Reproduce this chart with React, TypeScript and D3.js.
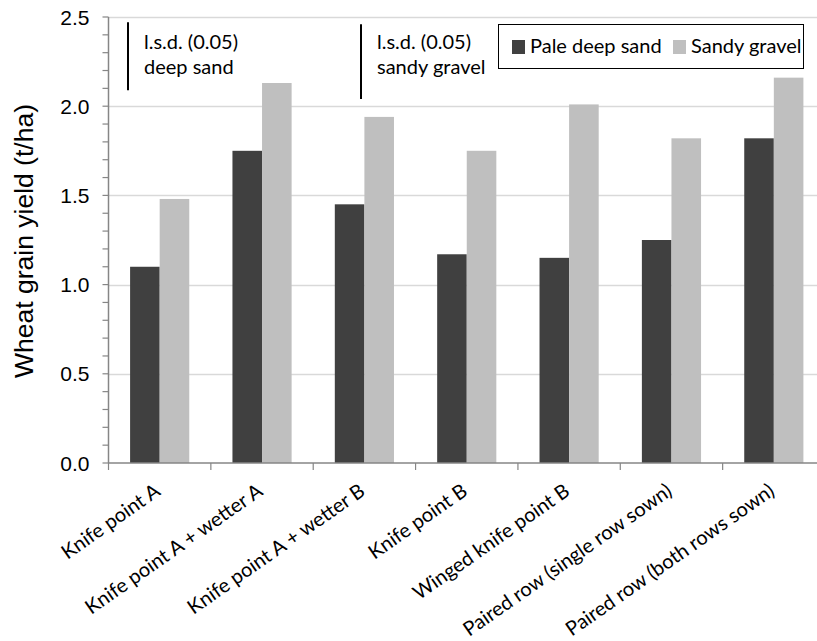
import React, { useEffect, useRef } from 'react';
import * as d3 from 'd3';

const categories = [
  'Knife point A',
  'Knife point A + wetter A',
  'Knife point A + wetter B',
  'Knife point B',
  'Winged knife point B',
  'Paired row (single row sown)',
  'Paired row (both rows sown)',
];
const seriesNames = ['Pale deep sand', 'Sandy gravel'];
const paleDeepSand = [1.10, 1.75, 1.45, 1.17, 1.15, 1.25, 1.82];
const sandyGravel = [1.48, 2.13, 1.94, 1.75, 2.01, 1.82, 2.16];
const yTicks = [0, 0.5, 1.0, 1.5, 2.0, 2.5];

// l.s.d. bars: label lines, top value, length
const lsdLabels = [['l.s.d. (0.05)', 'deep sand'], ['l.s.d. (0.05)', 'sandy gravel']];
const lsdTop = [2.47, 2.46];
const lsdSize = [0.38, 0.42];

const colors = ['#404040', '#bfbfbf'];

const App: React.FC = () => {
  const svgRef = useRef<SVGSVGElement>(null);

  useEffect(() => {
    if (!svgRef.current) return;
    const width = 817;
    const height = 641;
    const left = 108.5;
    const right = 825;
    const top = 17;
    const bottom = 463;

    const svg = d3.select(svgRef.current);
    svg.selectAll('*').remove();

    const x0 = d3.scaleBand<string>().domain(categories).range([left, right]).padding(0);
    const x1 = d3.scaleBand<string>()
      .domain(seriesNames)
      .range([0, x0.bandwidth()])
      .paddingInner(0)
      .paddingOuter(0.73);
    const y = d3.scaleLinear().domain([0, 2.5]).range([bottom, top]);

    const calibri = 'Lato, "Open Sans", sans-serif';
    const arial = '"Liberation Sans", Arial, sans-serif';
    const labelSize = '20px';

    // gridlines
    svg.append('g')
      .selectAll('line')
      .data(yTicks.filter(d => d > 0))
      .join('line')
      .attr('x1', left).attr('x2', right)
      .attr('y1', d => Math.round(y(d)) + 0.5).attr('y2', d => Math.round(y(d)) + 0.5)
      .attr('stroke', '#d9d9d9').attr('stroke-width', 1.5);

    // bars
    const rows = categories.map((c, i) => ({ c, vals: [paleDeepSand[i], sandyGravel[i]] }));
    const groups = svg.append('g')
      .selectAll('g')
      .data(rows)
      .join('g')
      .attr('transform', d => `translate(${x0(d.c)},0)`);
    groups.selectAll('rect')
      .data(d => d.vals.map((v, j) => ({ v, s: seriesNames[j], j })))
      .join('rect')
      .attr('x', d => x1(d.s)!)
      .attr('width', x1.bandwidth())
      .attr('y', d => y(d.v))
      .attr('height', d => bottom - y(d.v))
      .attr('fill', d => colors[d.j]);

    // y axis
    const yAxis = svg.append('g').attr('transform', `translate(${left},0)`);
    yAxis.append('line')
      .attr('x1', 0).attr('x2', 0).attr('y1', top).attr('y2', bottom)
      .attr('stroke', '#868686').attr('stroke-width', 1.5);
    yAxis.selectAll('line.tick')
      .data(d3.range(0, 26).map(i => i / 10))
      .join('line')
      .attr('class', 'tick')
      .attr('x1', -6).attr('x2', 0)
      .attr('y1', d => y(d)).attr('y2', d => y(d))
      .attr('stroke', '#868686').attr('stroke-width', 1.2);
    yAxis.selectAll('text')
      .data(yTicks)
      .join('text')
      .attr('x', -19)
      .attr('y', d => y(d))
      .attr('dy', '0.36em')
      .attr('text-anchor', 'end')
      .style('font-family', arial)
      .style('font-size', '21px')
      .attr('fill', '#000')
      .text(d => d3.format('.1f')(d));

    svg.append('text')
      .attr('transform', `translate(33,${(top + bottom) / 2 + 1}) rotate(-90)`)
      .attr('text-anchor', 'middle')
      .style('font-family', arial)
      .style('font-size', '26.5px')
      .text('Wheat grain yield (t/ha)');

    // x axis
    const xAxis = svg.append('g');
    xAxis.append('line')
      .attr('x1', left).attr('x2', right).attr('y1', bottom).attr('y2', bottom)
      .attr('stroke', '#868686').attr('stroke-width', 1.5);
    xAxis.selectAll('line.tick')
      .data(categories)
      .join('line')
      .attr('class', 'tick')
      .attr('x1', d => x0(d)!).attr('x2', d => x0(d)!)
      .attr('y1', bottom).attr('y2', bottom + 7)
      .attr('stroke', '#868686').attr('stroke-width', 1.2);
    xAxis.selectAll('text')
      .data(categories)
      .join('text')
      .attr('transform', d => `translate(${x0(d)! + x0.bandwidth() / 2 + 2},494) rotate(-35)`)
      .attr('text-anchor', 'end')
      .style('font-family', calibri)
      .style('font-size', labelSize)
      .text(d => d);

    // l.s.d. markers
    const lsdX = [128, 361];
    lsdLabels.forEach((lines, i) => {
      svg.append('line')
        .attr('x1', lsdX[i]).attr('x2', lsdX[i])
        .attr('y1', y(lsdTop[i])).attr('y2', y(lsdTop[i] - lsdSize[i]))
        .attr('stroke', '#000').attr('stroke-width', 2);
      lines.forEach((t, k) => {
        svg.append('text')
          .attr('x', lsdX[i] + 16)
          .attr('y', 49 + k * 25)
          .style('font-family', calibri)
          .style('font-size', labelSize)
          .text(t);
      });
    });

    // legend
    const legend = svg.append('g');
    legend.append('rect')
      .attr('x', 498.5).attr('y', 24.5).attr('width', 305).attr('height', 44)
      .attr('fill', '#fff').attr('stroke', '#000').attr('stroke-width', 1);
    const legendX = [512, 673];
    seriesNames.forEach((s, i) => {
      legend.append('rect')
        .attr('x', legendX[i]).attr('y', 40).attr('width', 13).attr('height', 14)
        .attr('fill', colors[i]);
      legend.append('text')
        .attr('x', legendX[i] + 18).attr('y', 53)
        .style('font-family', calibri)
        .style('font-size', labelSize)
        .text(s);
    });

    svg.attr('width', width).attr('height', height);
  }, []);

  return (
    <div style={{ position: 'absolute', left: 0, top: 0, background: '#fff' }}>
      <svg ref={svgRef} width="817" height="641" style={{ display: 'block' }}></svg>
    </div>
  );
};

export default App;
